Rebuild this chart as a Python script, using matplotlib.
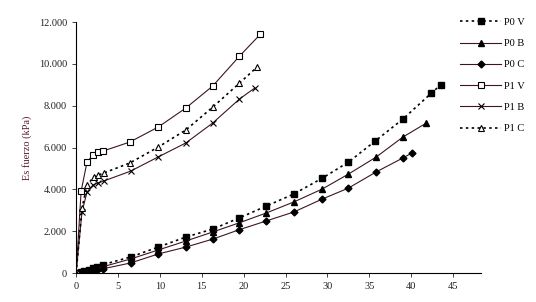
import matplotlib
matplotlib.use("Agg")
import matplotlib.pyplot as plt
from matplotlib.ticker import FuncFormatter

plt.rcParams['font.family'] = ['Liberation Serif', 'DejaVu Serif']

# deformacion (eje x) y esfuerzo (kPa)
p0v_x = [0, 0.6, 1.0, 1.5, 2.0, 2.5, 3.2, 6.5, 9.8, 13.1, 16.3, 19.4, 22.7, 26.0, 29.4, 32.5, 35.7, 39.0, 42.4, 43.5]
p0v_y = [0, 50, 100, 150, 220, 290, 400, 765, 1240, 1720, 2100, 2620, 3200, 3780, 4540, 5300, 6310, 7360, 8600, 8990]

p0b_x = [0, 0.6, 1.0, 1.5, 2.0, 2.5, 3.2, 6.5, 9.8, 13.1, 16.3, 19.4, 22.7, 26.0, 29.4, 32.5, 35.8, 39.0, 41.8]
p0b_y = [0, 40, 80, 120, 170, 220, 300, 670, 1100, 1530, 1960, 2390, 2870, 3400, 4020, 4730, 5540, 6500, 7170]

p0c_x = [0, 0.6, 1.0, 1.5, 2.0, 2.5, 3.2, 6.5, 9.8, 13.1, 16.3, 19.4, 22.7, 26.0, 29.4, 32.5, 35.8, 39.0, 40.1]
p0c_y = [0, 20, 40, 70, 100, 140, 200, 480, 910, 1240, 1620, 2060, 2490, 2920, 3540, 4060, 4830, 5500, 5740]

p1v_x = [0, 0.6, 1.3, 2.0, 2.6, 3.2, 6.4, 9.8, 13.1, 16.3, 19.5, 22.0]
p1v_y = [0, 3920, 5300, 5640, 5780, 5830, 6260, 6980, 7890, 8940, 10370, 11420]

p1b_x = [0, 0.7, 1.3, 2.0, 2.6, 3.3, 6.5, 9.8, 13.1, 16.3, 19.5, 21.3]
p1b_y = [0, 2920, 3870, 4200, 4300, 4400, 4870, 5550, 6220, 7170, 8320, 8840]

p1c_x = [0, 0.7, 1.3, 2.1, 2.6, 3.3, 6.4, 9.8, 13.1, 16.3, 19.5, 21.6]
p1c_y = [0, 3100, 4200, 4590, 4680, 4780, 5260, 6020, 6840, 7930, 9080, 9850]

labels = ['P0 V', 'P0 B', 'P0 C', 'P1 V', 'P1 B', 'P1 C']

lc = '#3e1424'
fig = plt.figure(figsize=(5.36, 3.02), dpi=100)
ax = fig.add_axes([0.142, 0.096, 0.755, 0.831])

ax.plot(p0v_x, p0v_y, ls=(0, (1.5, 2)), color='black', lw=1.2, marker='s', ms=4.5,
        mfc='black', mec='black', label=labels[0])
ax.plot(p0b_x, p0b_y, ls='-', color=lc, lw=0.8, marker='^', ms=5,
        mfc='black', mec='black', label=labels[1])
ax.plot(p0c_x, p0c_y, ls='-', color=lc, lw=0.8, marker='D', ms=3.5,
        mfc='black', mec='black', label=labels[2])
ax.plot(p1v_x, p1v_y, ls='-', color=lc, lw=0.8, marker='s', ms=5,
        mfc='white', mec='black', mew=0.8, label=labels[3])
ax.plot(p1b_x, p1b_y, ls='-', color=lc, lw=0.8, marker='x', ms=5,
        mec='black', mew=0.8, label=labels[4])
ax.plot(p1c_x, p1c_y, ls=(0, (1.5, 2)), color='black', lw=1.2, marker='^', ms=5,
        mfc='white', mec='black', mew=0.8, label=labels[5])

ax.set_xlim(0, 48.3)
ax.set_ylim(0, 12000)
ax.set_xticks(range(0, 46, 5))
ax.set_yticks(range(0, 12001, 2000))
ax.yaxis.set_major_formatter(FuncFormatter(lambda v, p: f"{int(v):,}".replace(",", ".")))
for s in ['top', 'right']:
    ax.spines[s].set_visible(False)
ax.spines['left'].set_linewidth(0.8)
ax.spines['bottom'].set_linewidth(0.8)
ax.tick_params(labelsize=7.5, length=3, width=0.6, colors='#222222')
ax.set_ylabel('Es fuerzo (kPa)', fontsize=7.5, color='#5a1a2a')
ax.yaxis.set_label_coords(-0.11, 0.5)

ax.legend(loc='upper left', bbox_to_anchor=(0.925, 1.055), frameon=False, fontsize=7.5,
          handlelength=4, labelspacing=1.15, handletextpad=0.2)

fig.savefig('out.png', dpi=100)
